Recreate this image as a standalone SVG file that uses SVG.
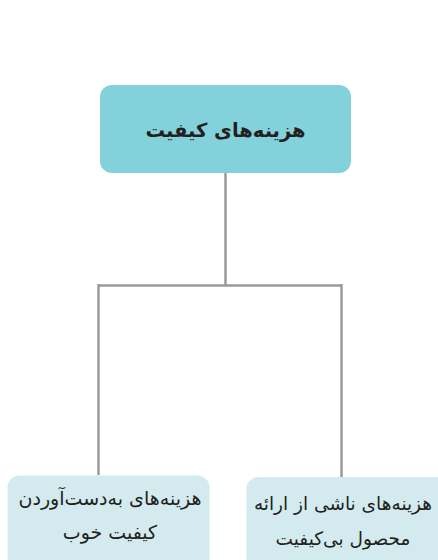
<svg xmlns="http://www.w3.org/2000/svg" width="438" height="560" viewBox="0 0 438 560">
<style>
.t{font-family:"DejaVu Sans","Noto Sans",sans-serif;fill:#231f20;text-anchor:middle;direction:rtl;unicode-bidi:embed}
.c{fill:none;stroke:#9a9a9c;stroke-width:2.5}
</style>
<rect width="438" height="560" fill="#ffffff"/>
<g id="connectors">
<path class="c" d="M225.5 173V285.5M98.5 285.5H341.5M98.5 284V475M341.5 284V477"/>
</g>
<g id="root">
<rect x="100" y="85" width="251" height="88" rx="12" fill="#83d1da"/>
<text class="t" x="225.5" y="137" font-size="19.5" font-weight="bold">هزینه&#x200C;های کیفیت</text>
</g>
<g id="left">
<rect x="7.5" y="475.5" width="202" height="100" rx="12" fill="#d3ebef"/>
<text class="t" x="110" y="505" font-size="19">هزینه&#x200C;های به&#x200C;دست&#x200C;آوردن</text>
<text class="t" x="110" y="539" font-size="19">کیفیت خوب</text>
</g>
<g id="right">
<rect x="246.5" y="477" width="205" height="100" rx="12" fill="#d3ebef"/>
<text class="t" x="343" y="510" font-size="18.5">هزینه&#x200C;های ناشی از ارائه</text>
<text class="t" x="343" y="545" font-size="18.5">محصول بی&#x200C;کیفیت</text>
</g>
</svg>
